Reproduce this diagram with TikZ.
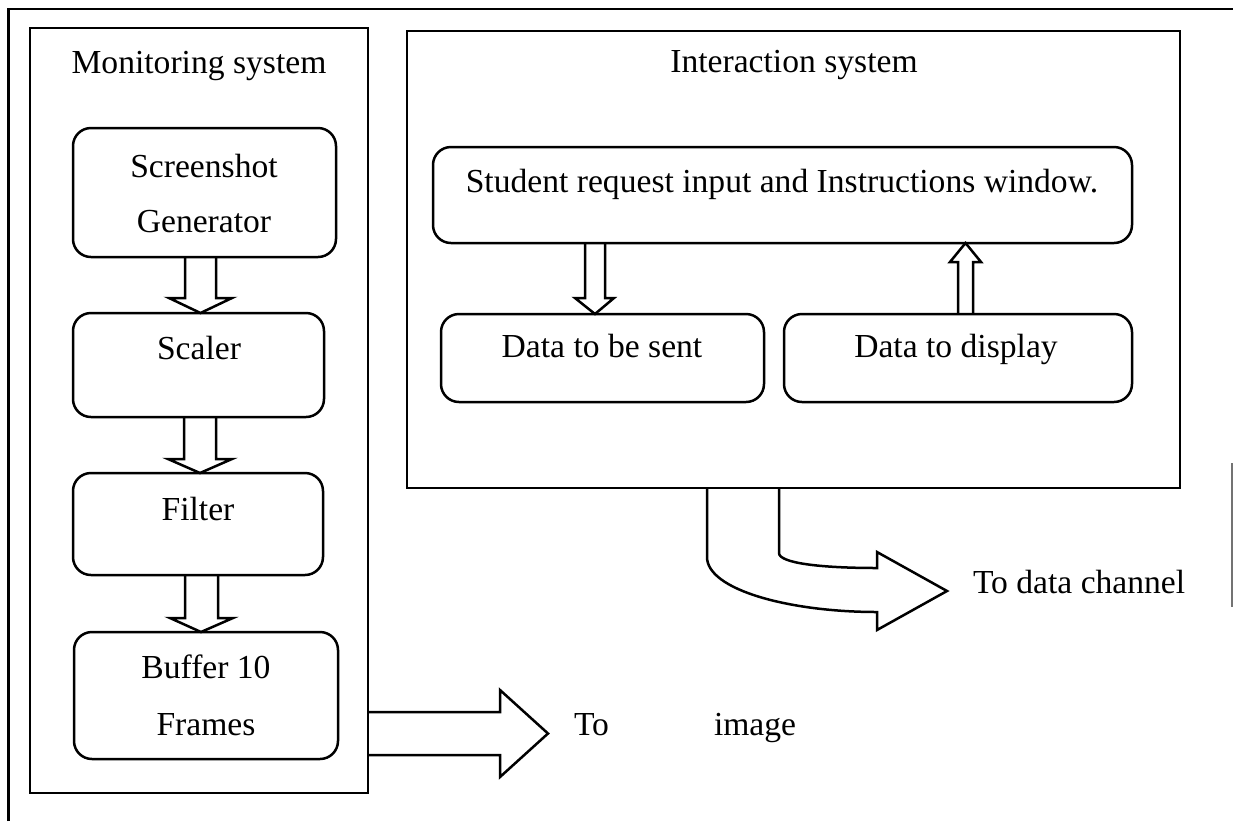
\documentclass[tikz,border=0pt]{standalone}
\usepackage{fontspec}
\setmainfont{Liberation Serif}
\usetikzlibrary{calc}

\tikzset{
  frameline/.style={line width=1.1pt, black},
  sysbox/.style={draw, line width=1.25pt, rectangle, inner sep=0pt, outer sep=0pt, anchor=north west},
  rbox/.style={draw, line width=1.25pt, rectangle, rounded corners=9pt, inner sep=0pt, outer sep=0pt, anchor=north west},
  blk/.style={draw, line width=1.25pt, line join=miter},
  lbl/.style={inner sep=0pt, outer sep=0pt, anchor=base, font=\fontsize{16.8pt}{20pt}\selectfont},
}

\begin{document}
\begin{tikzpicture}[x=0.5pt, y=-0.5pt]
\useasboundingbox (0,0) rectangle (1233,821);

% outer frame
\draw[frameline] (8.5,821) -- (8.5,9) -- (1233,9);
\draw[line width=0.8pt, black!55] (1232,463) -- (1232,607);

% the two subsystem frames
\node[sysbox, minimum width=169pt, minimum height=382.5pt] (mon) at (30,28) {};
\node[sysbox, minimum width=386.5pt, minimum height=228.5pt] (inter) at (407,31) {};

\node[lbl] (monT) at (199,73) {Monitoring system};
\node[lbl] (interT) at (794,72) {Interaction system};

% monitoring pipeline
\node[rbox, minimum width=131.5pt, minimum height=64.5pt] (gen) at (73,128) {};
\node[rbox, minimum width=125.5pt, minimum height=52pt] (scaler) at (73,313) {};
\node[rbox, minimum width=125pt, minimum height=51pt] (filter) at (73,473) {};
\node[rbox, minimum width=132pt, minimum height=63.5pt] (buffer) at (74,632) {};

\node[lbl] (genT1) at (204,177) {Screenshot};
\node[lbl] (genT2) at (204,232) {Generator};
\node[lbl] (scalerT) at (199,359) {Scaler};
\node[lbl] (filterT) at (198,520) {Filter};
\node[lbl] (bufferT1) at (206,678) {Buffer 10};
\node[lbl] (bufferT2) at (206,735) {Frames};

% interaction blocks
\node[rbox, minimum width=349.5pt, minimum height=48pt] (student) at (433,147) {};
\node[rbox, minimum width=161.5pt, minimum height=44pt] (sent) at (441,314) {};
\node[rbox, minimum width=174pt, minimum height=44pt] (display) at (784,314) {};

\node[lbl] (studentT) at (782,192) {Student request input and Instructions window.};
\node[lbl] (sentT) at (602,357) {Data to be sent};
\node[lbl] (displayT) at (956,357) {Data to display};

% block arrows down the pipeline
\draw[blk] (gen.south -| 185,0) -- ($(scaler.north -| 185,0)+(0,-15)$)
  -- ($(scaler.north -| 169,0)+(0,-15)$) -- (scaler.north -| 200.5,0)
  -- ($(scaler.north -| 232,0)+(0,-15)$) -- ($(scaler.north -| 216,0)+(0,-15)$)
  -- (gen.south -| 216,0);
\draw[blk] (scaler.south -| 184,0) -- ($(filter.north -| 184,0)+(0,-14)$)
  -- ($(filter.north -| 168,0)+(0,-14)$) -- (filter.north -| 200,0)
  -- ($(filter.north -| 232,0)+(0,-14)$) -- ($(filter.north -| 216,0)+(0,-14)$)
  -- (scaler.south -| 216,0);
\draw[blk] (filter.south -| 185,0) -- ($(buffer.north -| 185,0)+(0,-14)$)
  -- ($(buffer.north -| 170,0)+(0,-14)$) -- (buffer.north -| 201,0)
  -- ($(buffer.north -| 233,0)+(0,-14)$) -- ($(buffer.north -| 218,0)+(0,-14)$)
  -- (filter.south -| 218,0);

% request goes down, reply comes up
\draw[blk] (student.south -| 585,0) -- ($(sent.north -| 585,0)+(0,-16)$)
  -- ($(sent.north -| 575,0)+(0,-16)$) -- (sent.north -| 595,0)
  -- ($(sent.north -| 614,0)+(0,-16)$) -- ($(sent.north -| 605,0)+(0,-16)$)
  -- (student.south -| 605,0);
\draw[blk] (display.north -| 958,0) -- ($(student.south -| 958,0)+(0,19)$)
  -- ($(student.south -| 950,0)+(0,19)$) -- (student.south -| 965.5,0)
  -- ($(student.south -| 981,0)+(0,19)$) -- ($(student.south -| 973,0)+(0,19)$)
  -- (display.north -| 973,0);

% outputs of the two subsystems
\draw[blk] (mon.east |- 0,712) -- (500,712) -- (500,690) -- (548,733.5)
  -- (500,777) -- (500,755) -- (mon.east |- 0,755);
\node[lbl, anchor=base west] (toT) at (574,735) {To};
\node[lbl, anchor=base west] (imageT) at (714,735) {image};

\draw[blk] (inter.south -| 707,0) -- (707,557)
  .. controls (707,590) and (790,612) .. (877,612)
  -- (877,630) -- (947,591) -- (877,552) -- (877,568)
  .. controls (820,568) and (779,563) .. (779,553)
  -- (inter.south -| 779,0);
\node[lbl, anchor=base west] (chanT) at (973,593) {To data channel};

\end{tikzpicture}
\end{document}
